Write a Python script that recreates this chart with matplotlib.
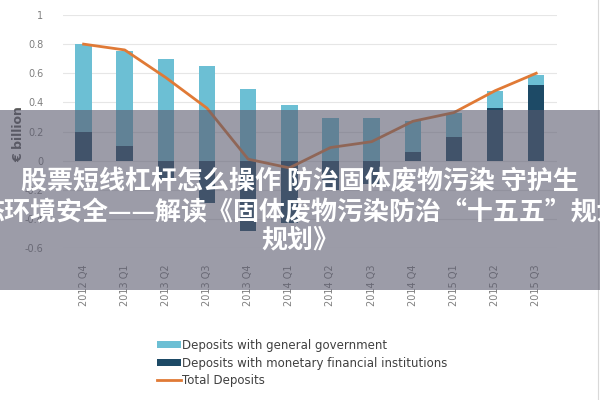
import numpy as np
import matplotlib
matplotlib.use("Agg")
from matplotlib import pyplot as plt
from matplotlib.patches import Rectangle, Patch
from matplotlib.lines import Line2D

# Quarter labels.
quarters = ["2012 Q4", "2013 Q1", "2013 Q2", "2013 Q3", "2013 Q4", "2014 Q1",
            "2014 Q2", "2014 Q3", "2014 Q4", "2015 Q1", "2015 Q2", "2015 Q3"]

# Deposits with monetary financial institutions (dark, can be negative).
mfi = [0.20, 0.10, -0.13, -0.29, -0.48, -0.43, -0.20, -0.16, 0.06, 0.16, 0.36, 0.52]

# Deposits with general government (light, stacked on top).
gov = [0.60, 0.65, 0.70, 0.65, 0.49, 0.38, 0.29, 0.29, 0.21, 0.17, 0.12, 0.07]

# Total deposits (line).
total = [0.80, 0.76, 0.57, 0.36, 0.01, -0.05, 0.09, 0.13, 0.27, 0.33, 0.48, 0.60]

# Banner text on top of the chart.
banner = ["股票短线杠杆怎么操作 防治固体废物污染 守护生",
          "态环境安全——解读《固体废物污染防治“十五五”规划",
          "规划》"]

# Colours.
cLight = "#6cbfd4"
cDark = "#1d4a66"
cLine = "#e07a36"
cText = "#7f7f7f"

fig = plt.figure(figsize=(6, 4), dpi=100)
ax = fig.add_axes([0.105, 0.38, 0.823, 0.5825])

x = np.arange(len(quarters))
mfiArr = np.array(mfi)
govBase = np.where(mfiArr > 0, mfiArr, 0.0)

# Bars: dark from zero, light stacked above positive part.
ax.bar(x, mfi, width=0.4, color=cDark, zorder=2)
ax.bar(x, gov, width=0.4, bottom=govBase, color=cLight, zorder=2)

# Total line.
ax.plot(x, total, color=cLine, linewidth=2, zorder=3)

# Axes styling.
ax.set_xlim(-0.5, len(quarters) - 0.5)
ax.set_ylim(-0.6, 1.0)
ax.set_yticks([-0.6, -0.4, -0.2, 0, 0.2, 0.4, 0.6, 0.8, 1])
ax.set_yticklabels(["-0.6", "-0.4", "-0.2", "0", "0.2", "0.4", "0.6", "0.8", "1"])
ax.yaxis.grid(True, color="#e6e6e6", linewidth=0.8, zorder=0)
ax.set_axisbelow(True)
for s in ax.spines.values():
    s.set_visible(False)
ax.tick_params(axis="both", length=0, labelsize=7, labelcolor=cText)
ax.tick_params(axis="y", pad=14)
ax.tick_params(axis="x", pad=12)
ax.set_xticks(x)
ax.set_xticklabels(quarters, rotation=90)
ax.set_ylabel("€ billion", color="#595959", fontsize=9, fontweight="bold")
ax.yaxis.set_label_coords(-0.077, 0.49)

# Legend below the chart.
handles = [Patch(facecolor=cLight), Patch(facecolor=cDark),
           Line2D([0], [0], color=cLine, linewidth=2)]
labels = ["Deposits with general government",
          "Deposits with monetary financial institutions",
          "Total Deposits"]
fig.legend(handles, labels, loc="upper left", bbox_to_anchor=(0.262, 0.153),
           frameon=False, fontsize=8.5, labelspacing=0.4, handlelength=2.0,
           handleheight=0.6, handletextpad=0.1, labelcolor="#404040",
           borderaxespad=0, borderpad=0)

# Thin frame line on the right edge.
fig.add_artist(Line2D([0.996, 0.996], [0.0, 1.0], transform=fig.transFigure,
                      color="#d9d9d9", linewidth=0.8))

# Grey translucent banner with white text.
fig.add_artist(Rectangle((0, 0.275), 1, 0.45, transform=fig.transFigure,
                         facecolor="#5a5a6e", alpha=0.6, edgecolor="none", zorder=10))
yText = [0.545, 0.468, 0.40]
for t, yy in zip(banner, yText):
    fig.text(0.5, yy, t, ha="center", va="center", color="white", fontsize=18.7,
             fontweight="bold", family=["Noto Sans CJK SC", "DejaVu Sans"], zorder=11)

fig.savefig("out.png", dpi=100)
